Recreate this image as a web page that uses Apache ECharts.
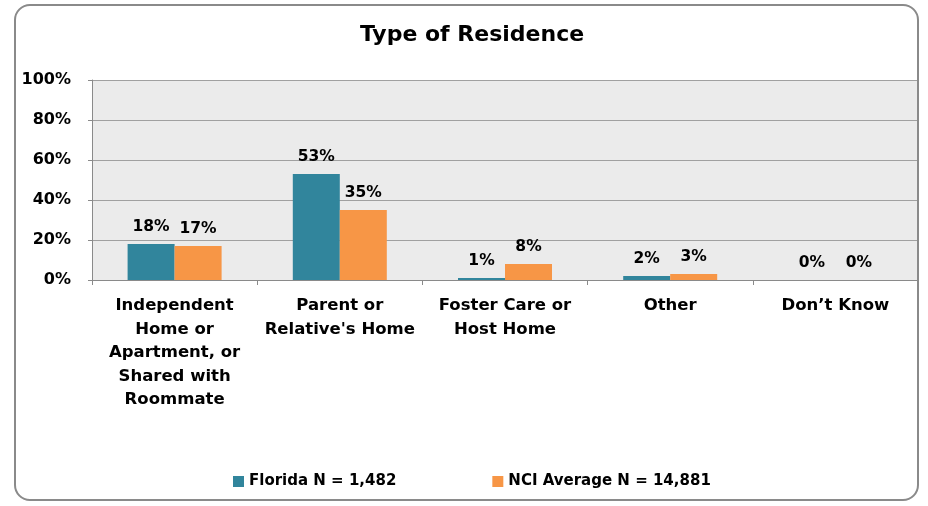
<!DOCTYPE html>
<html>
<head>
<meta charset="utf-8">
<script src="https://cdn.jsdelivr.net/npm/echarts@6/dist/echarts.min.js"></script>
<style>
  html, body { margin: 0; padding: 0; background: #fff; }
  #chart { width: 928px; height: 506px; }
</style>
</head>
<body>
<div id="chart"></div>
<script>
var categories = [
  'Independent\nHome or\nApartment, or\nShared with\nRoommate',
  'Parent or\nRelative\'s Home',
  'Foster Care or\nHost Home',
  'Other',
  'Don\u2019t Know'
];
var floridaValues = [18, 53, 1, 2, 0];
var nciValues = [17, 35, 8, 3, 0];
var seriesNames = ['Florida N = 1,482', 'NCI Average N = 14,881'];

var font = '"DejaVu Sans", Verdana, sans-serif';

var chart = echarts.init(document.getElementById('chart'));

function barLabel() {
  return {
    show: true,
    position: 'top',
    distance: 9,
    formatter: '{c}%',
    color: '#000',
    fontFamily: font,
    fontWeight: 'bold',
    fontSize: 15.5
  };
}

chart.setOption({
  animation: false,
  backgroundColor: '#fff',
  title: {
    text: 'Type of Residence',
    left: 467,
    textAlign: 'center',
    top: 19,
    textStyle: { fontFamily: font, fontWeight: 'bold', fontSize: 22, color: '#000' }
  },
  graphic: [{
    type: 'rect',
    shape: { x: 15, y: 5, width: 903, height: 495, r: 15 },
    style: { fill: null, stroke: '#8a8a8a', lineWidth: 2 },
    z: 100
  }],
  legend: {
    data: seriesNames,
    left: 228,
    top: 469,
    itemWidth: 11,
    itemHeight: 11,
    itemGap: 96,
    icon: 'rect',
    textStyle: { fontFamily: font, fontWeight: 'bold', fontSize: 15, color: '#000' }
  },
  grid: {
    left: 92, top: 80, right: 10, bottom: 226,
    show: true,
    backgroundColor: '#ebebeb',
    borderWidth: 0
  },
  xAxis: {
    type: 'category',
    data: categories,
    axisLine: { lineStyle: { color: '#8a8a8a', width: 1 } },
    axisTick: { show: true, length: 5, lineStyle: { color: '#8a8a8a' } },
    axisLabel: {
      interval: 0,
      margin: 14,
      fontFamily: font,
      fontWeight: 'bold',
      fontSize: 16.5,
      lineHeight: 23.5,
      color: '#000',
      align: 'center'
    }
  },
  yAxis: {
    type: 'value',
    min: 0,
    max: 100,
    interval: 20,
    axisLine: { show: true, lineStyle: { color: '#8a8a8a', width: 1 } },
    axisTick: { show: true, length: 4, lineStyle: { color: '#8a8a8a' } },
    splitLine: { lineStyle: { color: '#a0a0a0', width: 1 } },
    axisLabel: {
      formatter: '{value}%',
      margin: 21,
      fontFamily: font,
      fontWeight: 'bold',
      fontSize: 16,
      color: '#000'
    }
  },
  series: [
    {
      name: seriesNames[0],
      type: 'bar',
      data: floridaValues,
      barWidth: 47,
      barGap: '0%',
      itemStyle: { color: '#31859c' },
      label: barLabel()
    },
    {
      name: seriesNames[1],
      type: 'bar',
      data: nciValues,
      barWidth: 47,
      itemStyle: { color: '#f79646' },
      label: barLabel()
    }
  ]
});
</script>
</body>
</html>
